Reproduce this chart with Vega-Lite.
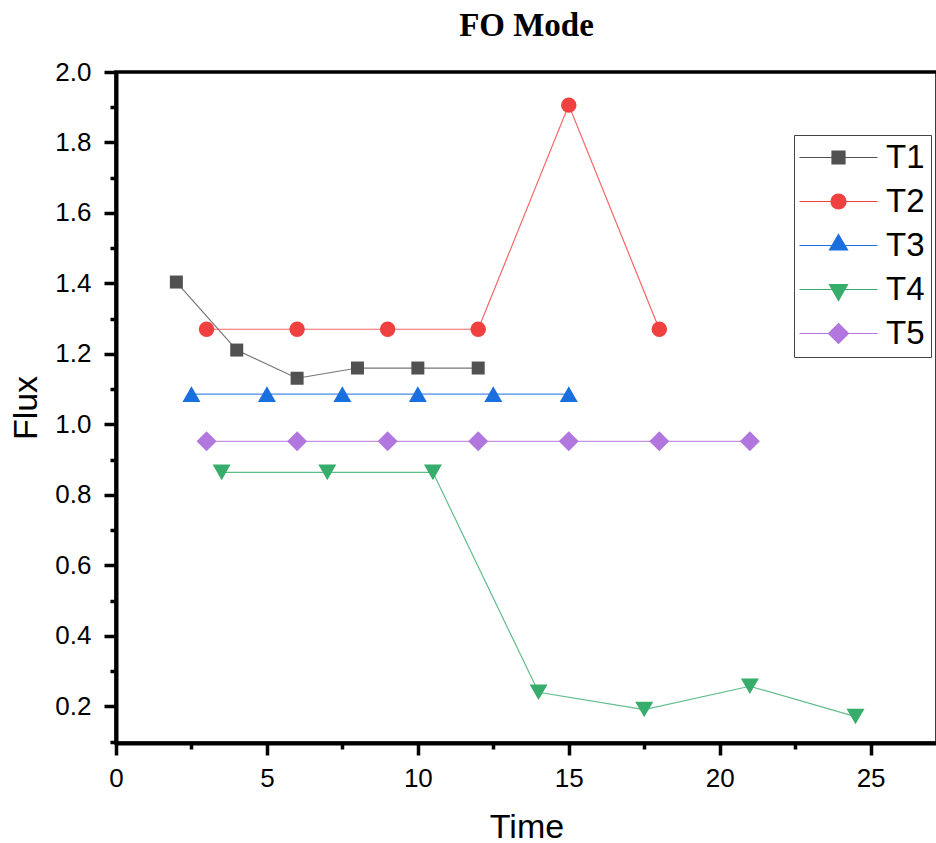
{
  "$schema": "https://vega.github.io/schema/vega-lite/v6.json",
  "width": 821,
  "height": 671,
  "autosize": {"type": "none"},
  "padding": {"left": 116, "top": 72, "right": 0, "bottom": 100},
  "background": "white",
  "title": {"text": "FO Mode", "font": "Liberation Serif", "fontSize": 33, "fontWeight": "bold", "color": "black", "baseline": "alphabetic", "offset": 22, "dy": 32, "anchor": "middle"},
  "config": {"view": {"stroke": "black", "strokeWidth": 3.5}},
  "data": {"values": [
    {"series": "T1", "time": 2, "flux": 1.404},
    {"series": "T1", "time": 4, "flux": 1.211},
    {"series": "T1", "time": 6, "flux": 1.131},
    {"series": "T1", "time": 8, "flux": 1.160},
    {"series": "T1", "time": 10, "flux": 1.160},
    {"series": "T1", "time": 12, "flux": 1.160},
    {"series": "T2", "time": 3, "flux": 1.270},
    {"series": "T2", "time": 6, "flux": 1.270},
    {"series": "T2", "time": 9, "flux": 1.270},
    {"series": "T2", "time": 12, "flux": 1.270},
    {"series": "T2", "time": 15, "flux": 1.906},
    {"series": "T2", "time": 18, "flux": 1.270},
    {"series": "T3", "time": 2.5, "flux": 1.086},
    {"series": "T3", "time": 5, "flux": 1.086},
    {"series": "T3", "time": 7.5, "flux": 1.086},
    {"series": "T3", "time": 10, "flux": 1.086},
    {"series": "T3", "time": 12.5, "flux": 1.086},
    {"series": "T3", "time": 15, "flux": 1.086},
    {"series": "T4", "time": 3.5, "flux": 0.864},
    {"series": "T4", "time": 7, "flux": 0.864},
    {"series": "T4", "time": 10.5, "flux": 0.864},
    {"series": "T4", "time": 14, "flux": 0.240},
    {"series": "T4", "time": 17.5, "flux": 0.191},
    {"series": "T4", "time": 21, "flux": 0.257},
    {"series": "T4", "time": 24.5, "flux": 0.171},
    {"series": "T5", "time": 3, "flux": 0.952},
    {"series": "T5", "time": 6, "flux": 0.952},
    {"series": "T5", "time": 9, "flux": 0.952},
    {"series": "T5", "time": 12, "flux": 0.952},
    {"series": "T5", "time": 15, "flux": 0.952},
    {"series": "T5", "time": 18, "flux": 0.952},
    {"series": "T5", "time": 21, "flux": 0.952}
  ]},
  "encoding": {
    "x": {
      "field": "time", "type": "quantitative",
      "scale": {"domain": [0, 27.2], "nice": false, "zero": false},
      "axis": {
        "title": "Time",
        "values": [0, 2.5, 5, 7.5, 10, 12.5, 15, 17.5, 20, 22.5, 25],
        "labelExpr": "datum.value % 5 === 0 ? datum.label : ''",
        "tickSize": {"condition": {"test": "datum.value % 5 === 0", "value": 12}, "value": 6},
        "grid": false,
        "domainColor": "black", "domainWidth": 4,
        "tickColor": "black", "tickWidth": 3.5,
        "labelFont": "Liberation Sans", "labelFontSize": 26, "labelColor": "black", "labelPadding": 10,
        "labelFlush": false, "labelOverlap": false,
        "titleFont": "Liberation Sans", "titleFontSize": 34, "titleFontWeight": "normal", "titleColor": "black", "titlePadding": 19
      }
    },
    "y": {
      "field": "flux", "type": "quantitative",
      "scale": {"domain": [0.096, 2.0], "nice": false, "zero": false},
      "axis": {
        "title": "Flux",
        "values": [0.1, 0.2, 0.3, 0.4, 0.5, 0.6, 0.7, 0.8, 0.9, 1.0, 1.1, 1.2, 1.3, 1.4, 1.5, 1.6, 1.7, 1.8, 1.9, 2.0],
        "labelExpr": "abs(datum.value*5 - round(datum.value*5)) < 0.001 ? format(datum.value, '.1f') : ''",
        "tickSize": {"condition": {"test": "abs(datum.value*5 - round(datum.value*5)) < 0.001", "value": 12}, "value": 6},
        "grid": false,
        "domainColor": "black", "domainWidth": 4,
        "tickColor": "black", "tickWidth": 3.5,
        "labelFont": "Liberation Sans", "labelFontSize": 26, "labelColor": "black", "labelPadding": 13,
        "labelFlush": false, "labelOverlap": false,
        "titleFont": "Liberation Sans", "titleFontSize": 34, "titleFontWeight": "normal", "titleColor": "black", "titlePadding": 11
      }
    },
    "color": {"field": "series", "type": "nominal",
      "scale": {"domain": ["T1", "T2", "T3", "T4", "T5"], "range": ["#515151", "#F14040", "#1A6FDF", "#37AD6B", "#B177DE"]},
      "legend": {
        "title": null,
        "orient": "none", "legendX": 678, "legendY": 63,
        "strokeColor": "#444444", "fillColor": "white",
        "padding": 6,
        "symbolSize": 400,
        "symbolStrokeWidth": 1.2,
        "symbolOpacity": 1,
        "labelOffset": 53,
        "labelFont": "Liberation Sans", "labelFontSize": 33, "labelColor": "black",
        "rowPadding": 10,
        "encode": {
          "symbols": {
            "update": {
              "shape": [
                {"test": "datum.value === 'T1'", "value": "M-1.7,0H6.1M1.55,-0.65H2.85V0.65H1.55Z"},
                {"test": "datum.value === 'T2'", "value": "M-1.7,0H6.1M1.45,0A0.75,0.75,0,1,0,2.95,0A0.75,0.75,0,1,0,1.45,0Z"},
                {"test": "datum.value === 'T3'", "value": "M-1.7,0H6.1M2.2,-1.1L3.1,0.45H1.3Z"},
                {"test": "datum.value === 'T4'", "value": "M-1.7,0H6.1M1.3,-0.5H3.1L2.2,1.1Z"},
                {"value": "M-1.7,0H6.1M2.2,-1.0L3.2,0L2.2,1.0L1.2,0Z"}
              ],
              "stroke": [
                {"test": "datum.value === 'T1'", "value": "#515151"},
                {"test": "datum.value === 'T2'", "value": "#F14040"},
                {"test": "datum.value === 'T3'", "value": "#1A6FDF"},
                {"test": "datum.value === 'T4'", "value": "#37AD6B"},
                {"value": "#B177DE"}
              ],
              "fill": [
                {"test": "datum.value === 'T1'", "value": "#515151"},
                {"test": "datum.value === 'T2'", "value": "#F14040"},
                {"test": "datum.value === 'T3'", "value": "#1A6FDF"},
                {"test": "datum.value === 'T4'", "value": "#37AD6B"},
                {"value": "#B177DE"}
              ],
              "strokeWidth": {"value": 1.2},
              "opacity": {"value": 1}
            }
          }
        }
      }
    }
  },
  "layer": [
    {
      "mark": {"type": "line", "strokeWidth": 1.2, "opacity": 0.8},
      "encoding": {}
    },
    {
      "mark": {"type": "point", "filled": true, "opacity": 1},
      "encoding": {
        "shape": {"field": "series", "type": "nominal",
          "scale": {"range": ["square", "circle", "triangle-up", "triangle-down", "diamond"]},
          "legend": null},
        "size": {"field": "series", "type": "nominal",
          "scale": {"type": "ordinal", "range": [169, 240, 324, 324, 400]},
          "legend": null}
      }
    }
  ]
}
